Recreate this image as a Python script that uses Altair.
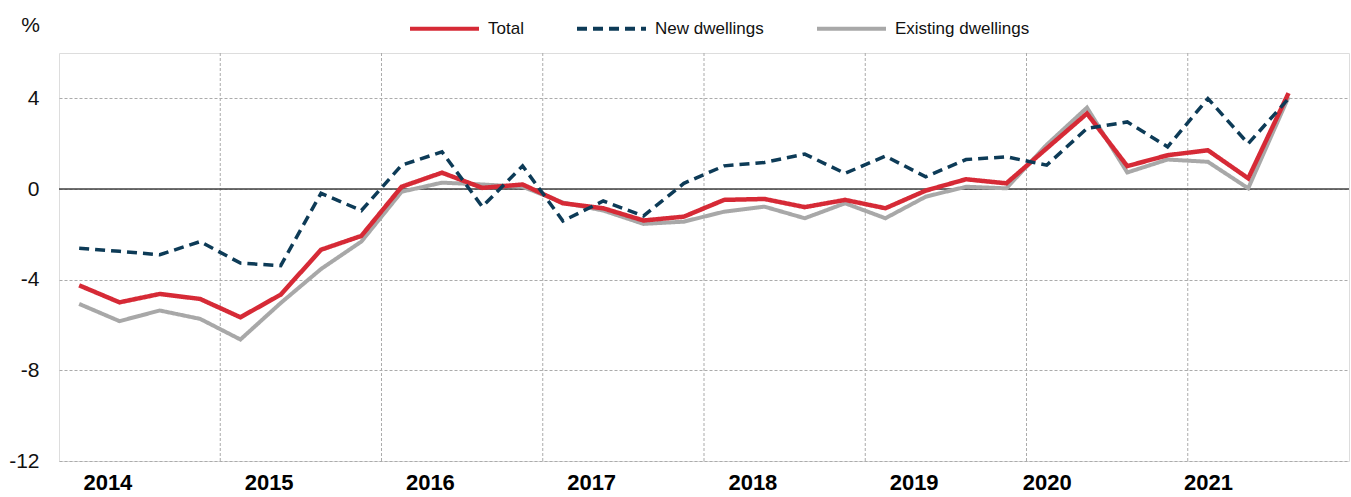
import altair as alt
import pandas as pd

quarters = ["2014Q1", "2014Q2", "2014Q3", "2014Q4", "2015Q1", "2015Q2", "2015Q3", "2015Q4",
            "2016Q1", "2016Q2", "2016Q3", "2016Q4", "2017Q1", "2017Q2", "2017Q3", "2017Q4",
            "2018Q1", "2018Q2", "2018Q3", "2018Q4", "2019Q1", "2019Q2", "2019Q3", "2019Q4",
            "2020Q1", "2020Q2", "2020Q3", "2020Q4", "2021Q1", "2021Q2", "2021Q3"]

total = [-4.25, -5.0, -4.63, -4.85, -5.66, -4.66, -2.68, -2.07, 0.1, 0.72, 0.05, 0.2,
         -0.63, -0.85, -1.39, -1.22, -0.48, -0.44, -0.8, -0.48, -0.85, -0.07, 0.43, 0.25,
         1.79, 3.33, 1.01, 1.49, 1.71, 0.47, 4.23]
new_dwellings = [-2.61, -2.75, -2.9, -2.32, -3.27, -3.38, -0.19, -0.95, 1.05, 1.64, -0.78, 1.02,
                 -1.41, -0.53, -1.19, 0.25, 1.02, 1.17, 1.54, 0.69, 1.45, 0.54, 1.3, 1.42,
                 1.05, 2.67, 2.96, 1.86, 3.99, 2.0, 3.99]
existing_dwellings = [-5.07, -5.83, -5.36, -5.73, -6.64, -5.03, -3.53, -2.32, -0.12, 0.28, 0.2, 0.1,
                      -0.6, -0.95, -1.54, -1.44, -1.0, -0.78, -1.29, -0.63, -1.29, -0.34, 0.1, 0.03,
                      1.95, 3.59, 0.73, 1.3, 1.2, 0.03, 4.06]

series_names = ["Total", "New dwellings", "Existing dwellings"]
series_colors = ["#d62a36", "#0d3b57", "#a8a8a8"]
series_dash = [[1, 0], [10, 6], [1, 0]]

year_labels = ["2014", "2015", "2016", "2017", "2018", "2019", "2020", "2021"]
year_label_pos = [0.7, 4.7, 8.7, 12.7, 16.7, 20.7, 24.0, 28.0]
year_bounds = [3.5, 7.5, 11.5, 15.5, 19.5, 23.5, 27.5]
y_ticks = [-12, -8, -4, 0, 4]

FONT = "Liberation Sans Narrow, Arial Narrow, Liberation Sans, sans-serif"

rows = []
for name, vals in zip(series_names, [total, new_dwellings, existing_dwellings]):
    for i, (q, v) in enumerate(zip(quarters, vals)):
        rows.append({"idx": i, "quarter": q, "series": name, "value": v})
df = pd.DataFrame(rows)

label_expr = ("[" + ",".join("'" + s + "'" for s in year_labels) + "][indexof(["
              + ",".join(str(p) for p in year_label_pos) + "], datum.value)]")

x_scale = alt.Scale(domain=[-0.5, 31.5], nice=False, zero=False)
y_scale = alt.Scale(domain=[-12, 6], nice=False)

color = alt.Color("series:N", scale=alt.Scale(domain=series_names, range=series_colors),
                  title=None,
                  legend=alt.Legend(orient="none", direction="horizontal", legendX=349, legendY=-61,
                                    symbolType="stroke", symbolSize=4761, symbolStrokeWidth=4,
                                    labelFont=FONT, labelFontSize=17, labelColor="#111111",
                                    labelLimit=0, labelOffset=7, columnPadding=45, padding=0))
dash = alt.StrokeDash("series:N", scale=alt.Scale(domain=series_names, range=series_dash),
                      title=None)

x_enc = alt.X("idx:Q", scale=x_scale,
              axis=alt.Axis(values=year_label_pos, labelExpr=label_expr, grid=False, ticks=False,
                            domain=False, labelFlush=False, labelOverlap=False, title=None,
                            labelFont=FONT, labelFontSize=22, labelFontWeight="bold",
                            labelColor="#000000", labelPadding=11))
y_enc = alt.Y("value:Q", scale=y_scale,
              axis=alt.Axis(values=y_ticks, grid=True, gridDash=[3, 2], gridColor="#ababab",
                            ticks=False, tickSize=0, domain=False, labelPadding=20,
                            labelExpr="toString(datum.value)",
                            labelFont=FONT, labelFontSize=21, labelColor="#111111",
                            title="%", titleAngle=0, titleX=-29, titleY=-28, titleAlign="center",
                            titleBaseline="middle", titleFont=FONT, titleFontSize=21,
                            titleFontWeight="normal", titleColor="#111111"))

base = alt.Chart(df)

bounds = alt.Chart(pd.DataFrame({"b": year_bounds})).mark_rule(
    color="#ababab", strokeDash=[3, 2], strokeWidth=1).encode(x=alt.X("b:Q", scale=x_scale))
zero = alt.Chart(pd.DataFrame({"z": [0]})).mark_rule(
    color="#404040", strokeWidth=1.5).encode(y=alt.Y("z:Q", scale=y_scale))

def line(name, width):
    return base.transform_filter(alt.datum.series == name).mark_line(
        strokeWidth=width).encode(x=x_enc, y=y_enc, color=color, strokeDash=dash)

chart = alt.layer(
    bounds, zero,
    line("Existing dwellings", 4),
    line("Total", 4.5),
    line("New dwellings", 3.5),
).properties(
    width=1290, height=408,
    autosize=alt.AutoSizeParams(type="none"),
    padding={"left": 59, "top": 53, "right": 2, "bottom": 36},
).configure_view(stroke="#d9d9d9", strokeWidth=2).configure(background="white")

chart.save("out.html", embed_options={"renderer": "svg", "actions": False})
